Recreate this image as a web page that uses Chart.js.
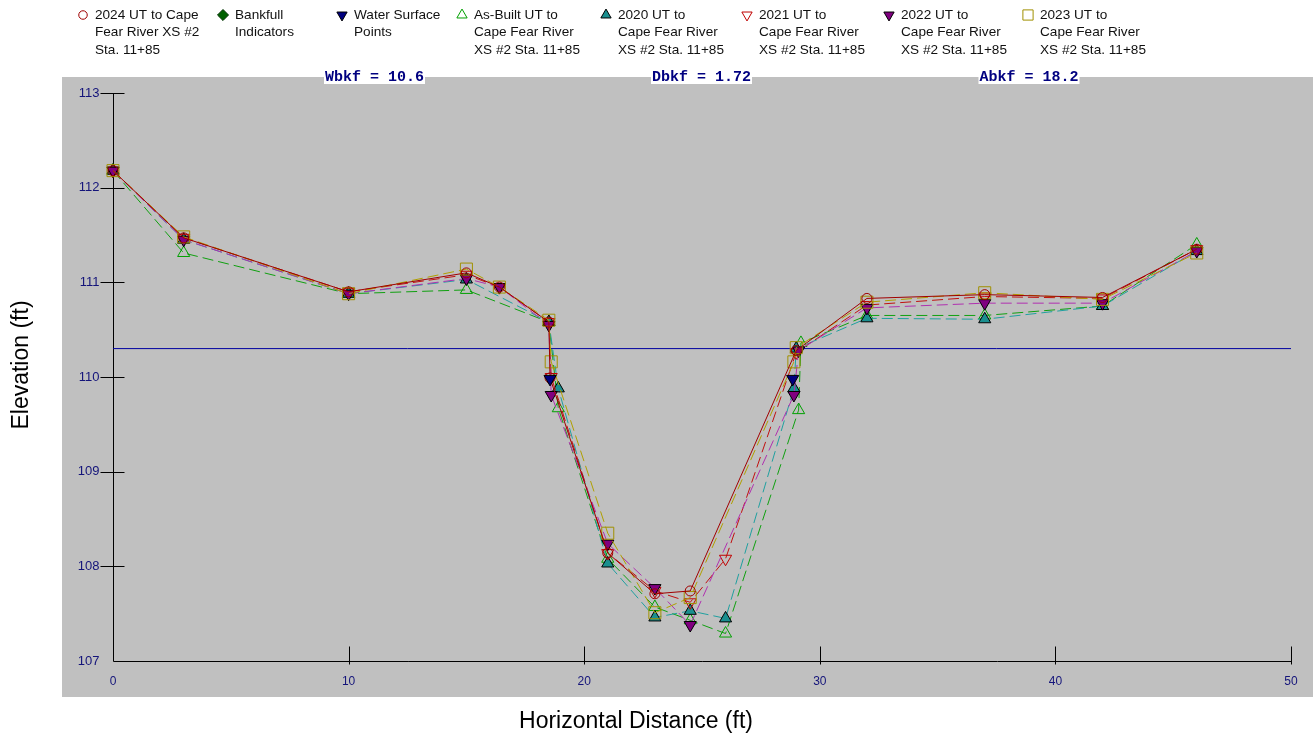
<!DOCTYPE html>
<html><head><meta charset="utf-8">
<script src="https://cdn.jsdelivr.net/npm/chart.js@4/dist/chart.umd.min.js"></script>
<style>html,body{margin:0;padding:0;background:#fff;} canvas{display:block}</style>
</head><body>
<canvas id="c" width="1313" height="741"></canvas>
<script>
// ---- data (horizontal distance ft / elevation ft) ----
const x2024 = [0, 3, 10, 15, 16.4, 18.5, 18.55, 21, 23, 24.5, 29.0, 32, 37, 42, 46];
const y2024 = [112.18, 111.47, 110.90, 111.10, 110.95, 110.58, 109.99, 108.14, 107.71, 107.74, 110.28, 110.83, 110.87, 110.84, 111.35];

const x2023 = [0, 3, 10, 15, 16.4, 18.5, 18.6, 21, 23, 24.5, 28.9, 29.0, 32, 37, 42, 46];
const y2023 = [112.18, 111.48, 110.88, 111.14, 110.95, 110.60, 110.16, 108.35, 107.51, 107.67, 110.16, 110.31, 110.79, 110.89, 110.82, 111.31];

const x2022 = [0, 3, 10, 15, 16.4, 18.5, 18.6, 21, 23, 24.5, 28.9, 29.1, 32, 37, 42, 46];
const y2022 = [112.18, 111.45, 110.88, 111.04, 110.95, 110.55, 109.81, 108.24, 107.77, 107.38, 109.81, 110.28, 110.73, 110.78, 110.78, 111.33];

const x2021 = [0, 3, 10, 15, 16.4, 18.5, 18.6, 21, 23, 24.5, 26, 29.0, 32, 37, 42, 46];
const y2021 = [112.18, 111.47, 110.90, 111.08, 110.95, 110.58, 110.00, 108.14, 107.74, 107.62, 108.08, 110.26, 110.76, 110.85, 110.83, 111.35];

const x2020 = [0, 3, 10, 15, 18.5, 18.9, 21, 23, 24.5, 26, 28.9, 29.0, 32, 37, 42, 46];
const y2020 = [112.18, 111.45, 110.88, 111.03, 110.58, 109.88, 108.03, 107.46, 107.53, 107.45, 109.88, 110.30, 110.62, 110.61, 110.75, 111.33];

const xAsBuilt = [0, 3, 10, 15, 18.5, 18.9, 21, 23, 24.5, 26, 29.1, 29.2, 32, 37, 42, 46];
const yAsBuilt = [112.18, 111.31, 110.88, 110.92, 110.58, 109.67, 108.08, 107.57, 107.43, 107.29, 109.65, 110.36, 110.65, 110.65, 110.75, 111.40];

const xWaterSurface = [18.55, 28.85];
const yWaterSurface = [109.98, 109.98];

const xBankfullInd = [];
const yBankfullInd = [];

const bankfullElev = 110.3;
const bankfullX = [0, 50];

const xTicks = [0, 10, 20, 30, 40, 50];
const yTicks = [107, 108, 109, 110, 111, 112, 113];

const legendLabels = [
  ['2024 UT to Cape', 'Fear River XS #2', 'Sta. 11+85'],
  ['Bankfull', 'Indicators'],
  ['Water Surface', 'Points'],
  ['As-Built UT to', 'Cape Fear River', 'XS #2 Sta. 11+85'],
  ['2020 UT to', 'Cape Fear River', 'XS #2 Sta. 11+85'],
  ['2021 UT to', 'Cape Fear River', 'XS #2 Sta. 11+85'],
  ['2022 UT to', 'Cape Fear River', 'XS #2 Sta. 11+85'],
  ['2023 UT to', 'Cape Fear River', 'XS #2 Sta. 11+85']
];
const statLabels = ['Wbkf = 10.6', 'Dbkf = 1.72', 'Abkf = 18.2'];
const xTitle = 'Horizontal Distance (ft)';
const yTitle = 'Elevation (ft)';

// ---- styling ----
const pts = (xs, ys) => xs.map((x, i) => ({x: x, y: ys[i]}));
const NONE = 'rgba(0,0,0,0)';
const DASH = [11, 5];

const mk = {
  y2024: {pointStyle: 'circle', radius: 5, rotation: 0, fill: NONE, stroke: '#a00000', bw: 1},
  bank:  {pointStyle: 'rectRot', radius: 6.5, rotation: 0, fill: '#006000', stroke: '#003000', bw: 1},
  ws:    {pointStyle: 'triangle', radius: 7, rotation: 180, fill: '#000080', stroke: '#000000', bw: 1},
  asb:   {pointStyle: 'triangle', radius: 7, rotation: 0, fill: NONE, stroke: '#00a000', bw: 1},
  y2020: {pointStyle: 'triangle', radius: 7, rotation: 0, fill: '#1a8f8f', stroke: '#000000', bw: 1},
  y2021: {pointStyle: 'triangle', radius: 7, rotation: 180, fill: NONE, stroke: '#c00000', bw: 1},
  y2022: {pointStyle: 'triangle', radius: 7, rotation: 180, fill: '#800080', stroke: '#000000', bw: 1},
  y2023: {pointStyle: 'rect', radius: 8.5, rotation: 0, fill: NONE, stroke: '#a09000', bw: 1}
};
const legendOrder = ['y2024', 'bank', 'ws', 'asb', 'y2020', 'y2021', 'y2022', 'y2023'];
const legendX = [83, 223, 342, 462, 606, 747, 889, 1028];

function ds(label, data, m, lineColor, dashed, showLine) {
  return {
    label: label, data: data, showLine: showLine, clip: false,
    borderColor: lineColor, borderWidth: 1, borderDash: dashed ? DASH : [],
    backgroundColor: NONE, fill: false, tension: 0,
    pointStyle: m.pointStyle, pointRadius: m.radius, pointRotation: m.rotation,
    pointBackgroundColor: m.fill, pointBorderColor: m.stroke, pointBorderWidth: m.bw,
    pointHoverRadius: m.radius
  };
}

const datasets = [
  ds('Water Surface Points', pts(xWaterSurface, yWaterSurface), mk.ws, '#000080', false, false),
  ds('Bankfull Indicators', pts(xBankfullInd, yBankfullInd), mk.bank, '#006000', false, false),
  ds('2024', pts(x2024, y2024), mk.y2024, '#a00000', false, true),
  ds('2023', pts(x2023, y2023), mk.y2023, '#b0a000', true, true),
  ds('2022', pts(x2022, y2022), mk.y2022, '#b030b0', true, true),
  ds('2021', pts(x2021, y2021), mk.y2021, '#c01010', true, true),
  ds('2020', pts(x2020, y2020), mk.y2020, '#20a0a0', true, true),
  ds('As-Built', pts(xAsBuilt, yAsBuilt), mk.asb, '#10a010', true, true),
  {label: 'Bankfull', data: bankfullX.map(x => ({x: x, y: bankfullElev})), showLine: true, clip: false,
   borderColor: '#0000a0', borderWidth: 1, pointRadius: 0, fill: false, tension: 0}
];

const deco = {
  id: 'deco',
  beforeDraw(chart) {
    const ctx = chart.ctx;
    ctx.save();
    ctx.fillStyle = '#ffffff';
    ctx.fillRect(0, 0, chart.width, chart.height);
    ctx.fillStyle = '#c0c0c0';
    ctx.fillRect(62, 77, chart.width - 62, 620);
    ctx.restore();
  },
  beforeDatasetsDraw(chart) {
    const ctx = chart.ctx, xs = chart.scales.x, ys = chart.scales.y;
    const x0 = Math.round(xs.getPixelForValue(xs.min)) + 0.5;
    const y0 = Math.round(ys.getPixelForValue(ys.min)) + 0.5;
    const yTop = Math.round(ys.getPixelForValue(ys.max));
    const xR = Math.round(xs.getPixelForValue(xs.max));
    ctx.save();
    ctx.strokeStyle = '#000';
    ctx.lineWidth = 1;
    ctx.beginPath();
    ctx.moveTo(x0, yTop); ctx.lineTo(x0, y0); ctx.lineTo(xR + 1, y0);
    yTicks.forEach(v => {
      if (v === ys.min) return;
      const py = Math.round(ys.getPixelForValue(v)) + 0.5;
      ctx.moveTo(x0 - 13, py); ctx.lineTo(x0 + 11, py);
    });
    xTicks.forEach(v => {
      if (v === xs.min) return;
      const px = Math.round(xs.getPixelForValue(v)) + 0.5;
      ctx.moveTo(px, y0 - 15); ctx.lineTo(px, y0 + 3);
    });
    ctx.stroke();
    ctx.fillStyle = '#14147a';
    ctx.font = '13px "Liberation Sans", Arial, sans-serif';
    ctx.textAlign = 'right'; ctx.textBaseline = 'middle';
    yTicks.forEach(v => {
      const py = ys.getPixelForValue(v);
      ctx.fillText(String(v), x0 - 14, py);
    });
    ctx.font = '12px "Liberation Sans", Arial, sans-serif';
    ctx.textAlign = 'center';
    xTicks.forEach(v => {
      ctx.fillText(String(v), xs.getPixelForValue(v), y0 + 20);
    });
    ctx.fillStyle = '#000';
    ctx.font = '23px "Liberation Sans", Arial, sans-serif';
    ctx.fillText(xTitle, 636, 722);
    ctx.translate(22, 365);
    ctx.rotate(-Math.PI / 2);
    ctx.fillText(yTitle, 0, 0);
    ctx.restore();
  },
  afterDraw(chart) {
    const ctx = chart.ctx;
    ctx.save();
    ctx.font = '13.6px "Liberation Sans", Arial, sans-serif';
    ctx.textAlign = 'left'; ctx.textBaseline = 'middle';
    legendOrder.forEach((k, i) => {
      const m = mk[k];
      ctx.save();
      ctx.fillStyle = m.fill; ctx.strokeStyle = m.stroke; ctx.lineWidth = m.bw;
      Chart.helpers.drawPoint(ctx, {pointStyle: m.pointStyle, radius: m.radius * 0.85, rotation: m.rotation, borderWidth: m.bw}, legendX[i], 15);
      ctx.restore();
      ctx.fillStyle = '#111';
      legendLabels[i].forEach((line, j) => ctx.fillText(line, legendX[i] + 12, 15 + j * 17.5));
    });
    const centers = [374.5, 701.5, 1029];
    ctx.font = 'bold 15px "Liberation Mono", "DejaVu Sans Mono", monospace';
    ctx.textAlign = 'center';
    statLabels.forEach((t, i) => {
      const w = ctx.measureText(t).width;
      ctx.fillStyle = '#fff';
      ctx.fillRect(centers[i] - w / 2 - 1, 68, w + 2, 16);
      ctx.fillStyle = '#000080';
      ctx.fillText(t, centers[i], 77);
    });
    ctx.restore();
  }
};

new Chart(document.getElementById('c'), {
  type: 'line',
  data: {datasets: datasets},
  options: {
    responsive: false, animation: false, devicePixelRatio: 1,
    layout: {padding: {left: 113, right: 22, top: 93, bottom: 80}},
    plugins: {legend: {display: false}, tooltip: {enabled: false}},
    events: [],
    scales: {
      x: {type: 'linear', min: 0, max: 50, display: false},
      y: {type: 'linear', min: 107, max: 113, display: false}
    }
  },
  plugins: [deco]
});
</script>
</body></html>
